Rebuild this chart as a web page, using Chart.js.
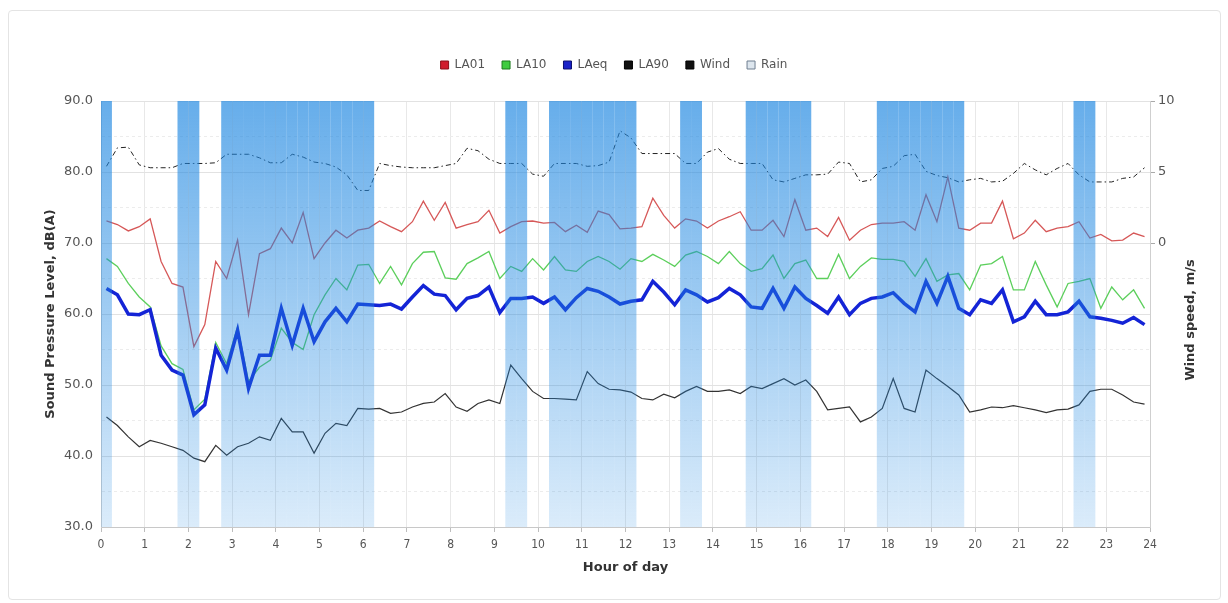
<!DOCTYPE html>
<html>
<head>
<meta charset="utf-8">
<title>Sound pressure level, wind and rain</title>
<script src="https://cdn.jsdelivr.net/npm/chart.js@4.4.1/dist/chart.umd.min.js"></script>
<style>
  html, body { margin: 0; padding: 0; background: #fff; }
  #frame { position: absolute; left: 8px; top: 10px; width: 1211px; height: 588px; border: 1px solid #e4e4e4; border-radius: 4px; }
  #wrap { position: absolute; left: 0; top: 0; width: 1228px; height: 603px; }
</style>
</head>
<body>
<div id="frame"></div>
<div id="wrap"><canvas id="chart" width="1228" height="603"></canvas></div>
<script>
// 15 minute measurements, one row per hour of the day
const la01 = [
  73.1, 72.6, 71.7, 72.3,  73.4, 67.4, 64.3, 63.8,  55.4, 58.5, 67.4, 65.0,  70.4, 59.9, 68.5, 69.2,
  72.1, 70.0, 74.3, 67.8,  70.0, 71.8, 70.7, 71.8,  72.1, 73.1, 72.3, 71.6,  73.0, 75.9, 73.2, 75.7,
  72.1, 72.6, 73.0, 74.6,  71.4, 72.3, 73.0, 73.1,  72.8, 72.9, 71.6, 72.5,  71.5, 74.5, 74.0, 72.0,
  72.1, 72.3, 76.3, 73.9,  72.1, 73.4, 73.1, 72.1,  73.1, 73.7, 74.4, 71.8,  71.8, 73.2, 70.9, 76.1,
  71.8, 72.1, 70.9, 73.6,  70.4, 71.8, 72.6, 72.8,  72.8, 73.0, 71.8, 76.8,  73.0, 79.3, 72.1, 71.8,
  72.8, 72.8, 75.9, 70.6,  71.4, 73.2, 71.6, 72.1,  72.3, 73.0, 70.7, 71.2,  70.3, 70.4, 71.4, 70.9
];
const la10 = [
  67.8, 66.7, 64.3, 62.4,  61.0, 55.5, 53.0, 52.2,  46.5, 48.0, 56.0, 53.0,  58.2, 50.5, 52.5, 53.5,
  58.0, 56.0, 55.0, 59.9,  62.7, 65.0, 63.4, 66.9,  67.0, 64.3, 66.7, 64.1,  67.1, 68.7, 68.8, 65.1,
  64.9, 67.1, 67.9, 68.8,  65.0, 66.7, 66.0, 67.8,  66.2, 68.1, 66.2, 66.0,  67.4, 68.1, 67.4, 66.3,
  67.8, 67.4, 68.4, 67.6,  66.7, 68.3, 68.8, 68.1,  67.1, 68.8, 67.1, 66.0,  66.4, 68.3, 65.0, 67.1,
  67.6, 65.0, 65.0, 68.4,  65.0, 66.7, 67.9, 67.7,  67.7, 67.4, 65.3, 67.8,  64.6, 65.5, 65.7, 63.4,
  66.9, 67.1, 68.1, 63.4,  63.4, 67.4, 64.1, 61.0,  64.3, 64.6, 65.0, 60.8,  63.8, 62.0, 63.4, 60.8
];
const laeq = [
  63.6, 62.7, 60.0, 59.9,  60.6, 54.2, 52.1, 51.4,  45.8, 47.2, 55.2, 52.1,  57.7, 49.5, 54.2, 54.2,
  60.8, 55.6, 60.8, 56.1,  58.9, 60.8, 58.9, 61.4,  61.3, 61.2, 61.4, 60.7,  62.4, 64.0, 62.8, 62.6,
  60.6, 62.2, 62.6, 63.8,  60.2, 62.2, 62.2, 62.4,  61.5, 62.4, 60.6, 62.3,  63.6, 63.2, 62.4, 61.4,
  61.8, 62.0, 64.6, 63.1,  61.3, 63.4, 62.7, 61.7,  62.3, 63.6, 62.7, 61.0,  60.8, 63.6, 60.8, 63.8,
  62.2, 61.2, 60.1, 62.4,  59.9, 61.5, 62.2, 62.4,  63.0, 61.5, 60.3, 64.6,  61.5, 65.3, 60.8, 59.9,
  62.0, 61.5, 63.4, 58.9,  59.6, 61.8, 59.9, 59.9,  60.3, 61.8, 59.6, 59.4,  59.1, 58.7, 59.5, 58.5
];
const la90 = [
  45.5, 44.3, 42.7, 41.3,  42.2, 41.8, 41.3, 40.8,  39.7, 39.2, 41.5, 40.1,  41.3, 41.8, 42.7, 42.2,
  45.3, 43.4, 43.4, 40.4,  43.2, 44.6, 44.3, 46.7,  46.6, 46.7, 46.0, 46.2,  46.9, 47.4, 47.6, 48.8,
  46.9, 46.3, 47.4, 47.9,  47.4, 52.8, 50.9, 49.1,  48.1, 48.1, 48.0, 47.9,  51.9, 50.2, 49.4, 49.3,
  49.0, 48.1, 47.9, 48.7,  48.2, 49.1, 49.8, 49.1,  49.1, 49.3, 48.8, 49.8,  49.5, 50.2, 50.9, 50.0,
  50.7, 49.1, 46.5, 46.7,  46.9, 44.8, 45.5, 46.7,  50.9, 46.7, 46.2, 52.1,  50.9, 49.8, 48.6, 46.2,
  46.5, 46.9, 46.8, 47.1,  46.8, 46.5, 46.1, 46.5,  46.6, 47.2, 49.1, 49.4,  49.4, 48.6, 47.6, 47.3
];
const wind = [
  5.4, 6.7, 6.75, 5.5,  5.3, 5.3, 5.3, 5.6,  5.6, 5.6, 5.65, 6.25,  6.25, 6.25, 6.0, 5.65,
  5.65, 6.25, 6.05, 5.7,  5.6, 5.35, 4.8, 3.7,  3.7, 5.6, 5.45, 5.35,  5.3, 5.3, 5.3, 5.45,
  5.6, 6.67, 6.5, 5.9,  5.6, 5.6, 5.6, 4.85,  4.7, 5.6, 5.6, 5.6,  5.4, 5.45, 5.7, 7.9,
  7.4, 6.3, 6.3, 6.3,  6.3, 5.6, 5.6, 6.4,  6.65, 5.9, 5.6, 5.6,  5.6, 4.45, 4.3, 4.55,
  4.8, 4.8, 4.85, 5.7,  5.6, 4.3, 4.45, 5.25,  5.4, 6.15, 6.25, 5.05,  4.75, 4.6, 4.3, 4.45,
  4.55, 4.3, 4.35, 4.9,  5.6, 5.15, 4.8, 5.25,  5.6, 4.8, 4.3, 4.3,  4.3, 4.55, 4.65, 5.3
];
// 1 = rain during that 15 minute slot
const rain = [
  1, 0, 0, 0,  0, 0, 0, 1,  1, 0, 0, 1,  1, 1, 1, 1,
  1, 1, 1, 1,  1, 1, 1, 1,  1, 0, 0, 0,  0, 0, 0, 0,
  0, 0, 0, 0,  0, 1, 1, 0,  0, 1, 1, 1,  1, 1, 1, 1,
  1, 0, 0, 0,  0, 1, 1, 0,  0, 0, 0, 1,  1, 1, 1, 1,
  1, 0, 0, 0,  0, 0, 0, 1,  1, 1, 1, 1,  1, 1, 1, 0,
  0, 0, 0, 0,  0, 0, 0, 0,  0, 1, 1, 0,  0, 0, 0, 0
];
const seriesNames = ['LA01', 'LA10', 'LAeq', 'LA90', 'Wind', 'Rain'];

const slotHours = 0.25;
const times = laeq.map((_, i) => (i + 0.5) * slotHours);
const toPoints = arr => arr.map((v, i) => ({ x: times[i], y: v }));

const legendSwatch = [
  ['#d01c2c', '#8a1018'],
  ['#3fcc3f', '#1d7a1d'],
  ['#1a22c8', '#0c1070'],
  ['#111111', '#000000'],
  ['#111111', '#000000'],
  ['#dde6ee', '#6f7f90']
];

const FONT = "'DejaVu Sans', Verdana, sans-serif";
Chart.defaults.font.family = FONT;

function rainFill(context) {
  const area = context.chart.chartArea;
  if (!area) return 'rgba(30,135,225,0.5)';
  const g = context.chart.ctx.createLinearGradient(0, area.top, 0, area.bottom);
  g.addColorStop(0, 'rgba(30,135,225,0.68)');
  g.addColorStop(1, 'rgba(30,135,225,0.16)');
  return g;
}

// extra space between legend and plot
const legendGap = {
  id: 'legendGap',
  beforeInit(chart) {
    const fit = chart.legend.fit;
    chart.legend.fit = function () {
      fit.call(this);
      this.height += 20;
    };
  }
};

// right axis title reads bottom-to-top like the left one
const windTitle = {
  id: 'windTitle',
  afterDraw(chart) {
    const { ctx, chartArea } = chart;
    ctx.save();
    ctx.translate(1191, (chartArea.top + chartArea.bottom) / 2 + 6);
    ctx.rotate(-Math.PI / 2);
    ctx.font = 'bold 13px ' + FONT;
    ctx.fillStyle = '#333';
    ctx.textAlign = 'center';
    ctx.textBaseline = 'middle';
    ctx.fillText('Wind speed, m/s', 0, 0);
    ctx.restore();
  }
};

const line = (label, data, color, width, order, extra) => Object.assign({
  type: 'line',
  label,
  data: toPoints(data),
  borderColor: color,
  backgroundColor: color,
  borderWidth: width,
  pointRadius: 0,
  tension: 0,
  yAxisID: 'y',
  order
}, extra || {});

new Chart(document.getElementById('chart'), {
  type: 'line',
  data: {
    datasets: [
      line(seriesNames[0], la01, '#d65858', 1.3, 2),
      line(seriesNames[1], la10, '#5ccf5c', 1.3, 3),
      line(seriesNames[2], laeq, '#1424d6', 3.5, 1),
      line(seriesNames[3], la90, '#333333', 1.2, 2),
      line(seriesNames[4], wind, '#222222', 1, 4, { yAxisID: 'y2', borderDash: [5, 3, 1.5, 3] }),
      {
        type: 'bar',
        label: seriesNames[5],
        data: toPoints(rain),
        backgroundColor: rainFill,
        borderWidth: 0,
        inflateAmount: 0,
        barPercentage: 1,
        categoryPercentage: 1,
        yAxisID: 'yRain',
        order: 0
      }
    ]
  },
  options: {
    responsive: false,
    animation: false,
    devicePixelRatio: 1,
    layout: { padding: { top: 42, left: 0, right: 0, bottom: 0 } },
    plugins: {
      tooltip: { enabled: false },
      legend: {
        labels: {
          boxWidth: 8,
          boxHeight: 8,
          padding: 17,
          color: '#555',
          font: { size: 12 },
          generateLabels: chart => chart.data.datasets.map((ds, i) => ({
            text: ds.label,
            fillStyle: legendSwatch[i][0],
            strokeStyle: legendSwatch[i][1],
            lineWidth: 1,
            fontColor: '#555',
            hidden: !chart.isDatasetVisible(i),
            datasetIndex: i
          }))
        }
      }
    },
    scales: {
      x: {
        type: 'linear',
        min: 0,
        max: 24,
        offset: false,
        afterFit: s => { s.height = 76; },
        grid: { offset: false, color: '#e8e8e8', tickLength: 5, tickColor: '#bdbdbd' },
        border: { color: '#c8c8c8' },
        ticks: {
          stepSize: 1,
          autoSkip: false,
          maxRotation: 0,
          padding: 6,
          color: '#555',
          font: { family: "'DejaVu Sans Condensed', " + FONT, size: 12 }
        },
        title: {
          display: true,
          text: 'Hour of day',
          color: '#333',
          font: { size: 13, weight: 'bold' },
          padding: { top: 4, bottom: 28 }
        }
      },
      y: {
        position: 'left',
        min: 30,
        max: 90,
        afterFit: s => { s.width = 101; },
        grid: {
          drawTicks: false,
          color: c => (c.tick && c.tick.value % 10 ? '#ececec' : '#e2e2e2')
        },
        border: {
          color: '#cfcfcf',
          dash: c => (c.tick && c.tick.value % 10 ? [3, 3] : [])
        },
        ticks: {
          stepSize: 5,
          padding: 8,
          color: '#555',
          font: { size: 13 },
          callback: v => (v % 10 === 0 ? v.toFixed(1) : '')
        },
        title: {
          display: true,
          text: 'Sound Pressure Level, dB(A)',
          color: '#333',
          font: { size: 13, weight: 'bold' },
          padding: { top: 43, bottom: 0 }
        }
      },
      y2: {
        position: 'right',
        min: -20,
        max: 10,
        afterFit: s => { s.width = 78; },
        grid: {
          drawOnChartArea: false,
          tickLength: 5,
          tickColor: c => (c.tick && c.tick.value >= 0 ? '#aaaaaa' : 'rgba(0,0,0,0)')
        },
        border: { color: '#cfcfcf' },
        ticks: {
          stepSize: 5,
          padding: 3,
          color: '#555',
          font: { size: 13 },
          callback: v => (v >= 0 ? v : '')
        }
      },
      yRain: { display: false, min: 0, max: 1 }
    }
  },
  plugins: [legendGap, windTitle]
});
</script>
</body>
</html>
